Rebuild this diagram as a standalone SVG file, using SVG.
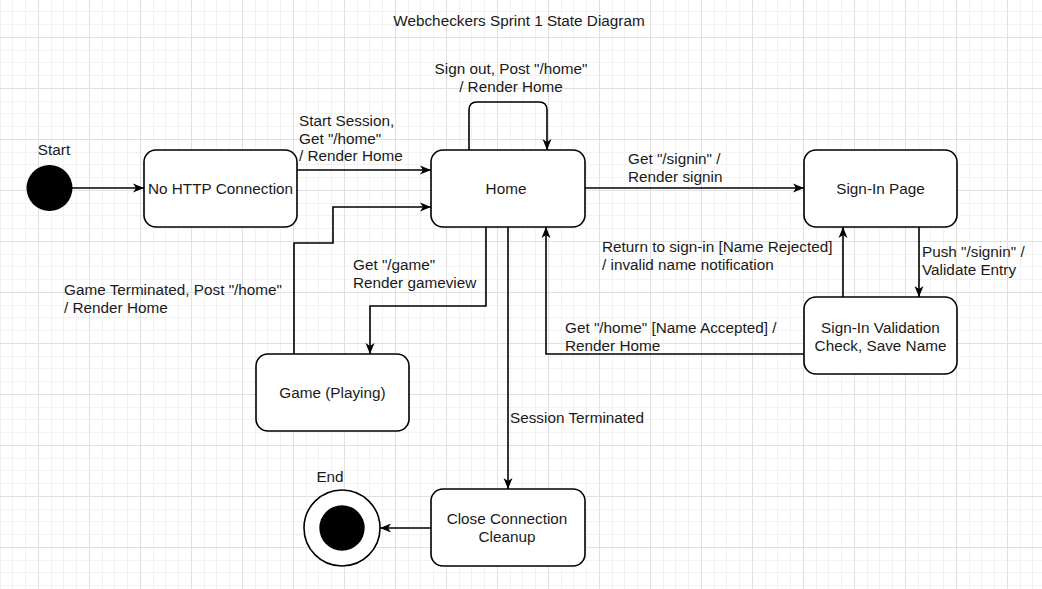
<svg xmlns="http://www.w3.org/2000/svg" width="1042" height="589" viewBox="0 0 1042 589">
<defs>
<pattern id="grid" patternUnits="userSpaceOnUse" x="38" y="37" width="51" height="51">
<rect width="51" height="51" fill="#fff"/>
<rect x="13" y="0" width="1" height="51" fill="#f2f2f2"/>
<rect x="25" y="0" width="1" height="51" fill="#f2f2f2"/>
<rect x="38" y="0" width="1" height="51" fill="#f2f2f2"/>
<rect x="0" y="13" width="51" height="1" fill="#f2f2f2"/>
<rect x="0" y="25" width="51" height="1" fill="#f2f2f2"/>
<rect x="0" y="38" width="51" height="1" fill="#f2f2f2"/>
<rect x="0" y="0" width="1" height="51" fill="#e0e0e0"/>
<rect x="0" y="0" width="51" height="1" fill="#e0e0e0"/>
</pattern>
<marker id="arr" markerUnits="userSpaceOnUse" markerWidth="12" markerHeight="10" refX="11" refY="5" orient="auto" viewBox="0 0 12 10">
<path d="M0,0.5 L11,5 L0,9.5 L3,5 Z" fill="#000"/>
</marker>
</defs>
<style>
text{font-family:"Liberation Sans",Arial,sans-serif;font-size:15.3px;fill:#1a1a1a}
.c{text-anchor:middle}
.box{fill:#fff;stroke:#000;stroke-width:1.6}
.edge{fill:none;stroke:#000;stroke-width:1.6;marker-end:url(#arr)}
</style>
<rect width="1042" height="589" fill="url(#grid)"/>
<text class="c" x="519" y="26">Webcheckers Sprint 1 State Diagram</text>

<g id="connectors">
<path class="edge" d="M72 188 H144"/>
<path class="edge" d="M297 170 H431"/>
<path class="edge" d="M469 150 V110 Q469 102 477 102 H539 Q547 102 547 110 V150"/>
<path class="edge" d="M585 188 H804"/>
<path class="edge" d="M919 227 V297"/>
<path class="edge" d="M843 297 V227"/>
<path class="edge" d="M804 354 H546 V227"/>
<path class="edge" d="M486 227 V306 H370 V354"/>
<path class="edge" d="M294 354 V243 H333 V207 H431"/>
<path class="edge" d="M508 227 V489"/>
<path class="edge" d="M431 528 H380"/>
<text x="299" y="126">Start Session,</text>
<text x="299" y="143.5">Get "/home"</text>
<text x="299" y="161">/ Render Home</text>
<text class="c" x="511" y="74">Sign out, Post "/home"</text>
<text class="c" x="511" y="92">/ Render Home</text>
<text x="628" y="164">Get "/signin" /</text>
<text x="628" y="182">Render signin</text>
<text x="922" y="257">Push "/signin" /</text>
<text x="922" y="275">Validate Entry</text>
<text x="602" y="252">Return to sign-in [Name Rejected]</text>
<text x="602" y="269.5">/ invalid name notification</text>
<text x="565" y="333">Get "/home" [Name Accepted] /</text>
<text x="565" y="351">Render Home</text>
<text x="353" y="270">Get "/game"</text>
<text x="353" y="288">Render gameview</text>
<text x="64" y="295">Game Terminated, Post "/home"</text>
<text x="64" y="313">/ Render Home</text>
<text x="510" y="423">Session Terminated</text>
</g>

<g id="start">
<circle cx="49.5" cy="188" r="23" fill="#000"/>
<text class="c" x="54" y="155">Start</text>
</g>
<g id="no-http">
<rect class="box" x="144" y="150" width="153" height="77" rx="12"/>
<text class="c" x="220.5" y="194">No HTTP Connection</text>
</g>
<g id="home">
<rect class="box" x="431" y="150" width="154" height="77" rx="12"/>
<text class="c" x="506" y="194">Home</text>
</g>
<g id="signin-page">
<rect class="box" x="804" y="150" width="153" height="77" rx="12"/>
<text class="c" x="880.5" y="194">Sign-In Page</text>
</g>
<g id="signin-validation">
<rect class="box" x="804" y="297" width="153" height="77" rx="12"/>
<text class="c" x="880.5" y="332.5">Sign-In Validation</text>
<text class="c" x="880.5" y="350.5">Check, Save Name</text>
</g>
<g id="game">
<rect class="box" x="256" y="354" width="153" height="77" rx="12"/>
<text class="c" x="332.5" y="398">Game (Playing)</text>
</g>
<g id="close-connection">
<rect class="box" x="431" y="489" width="154" height="77" rx="12"/>
<text class="c" x="507" y="523.5">Close Connection</text>
<text class="c" x="507" y="541.5">Cleanup</text>
</g>
<g id="end">
<circle cx="342" cy="528" r="38" fill="#fff" stroke="#000" stroke-width="1.6"/>
<circle cx="342" cy="528" r="22.7" fill="#000"/>
<text class="c" x="330" y="482">End</text>
</g>
</svg>
